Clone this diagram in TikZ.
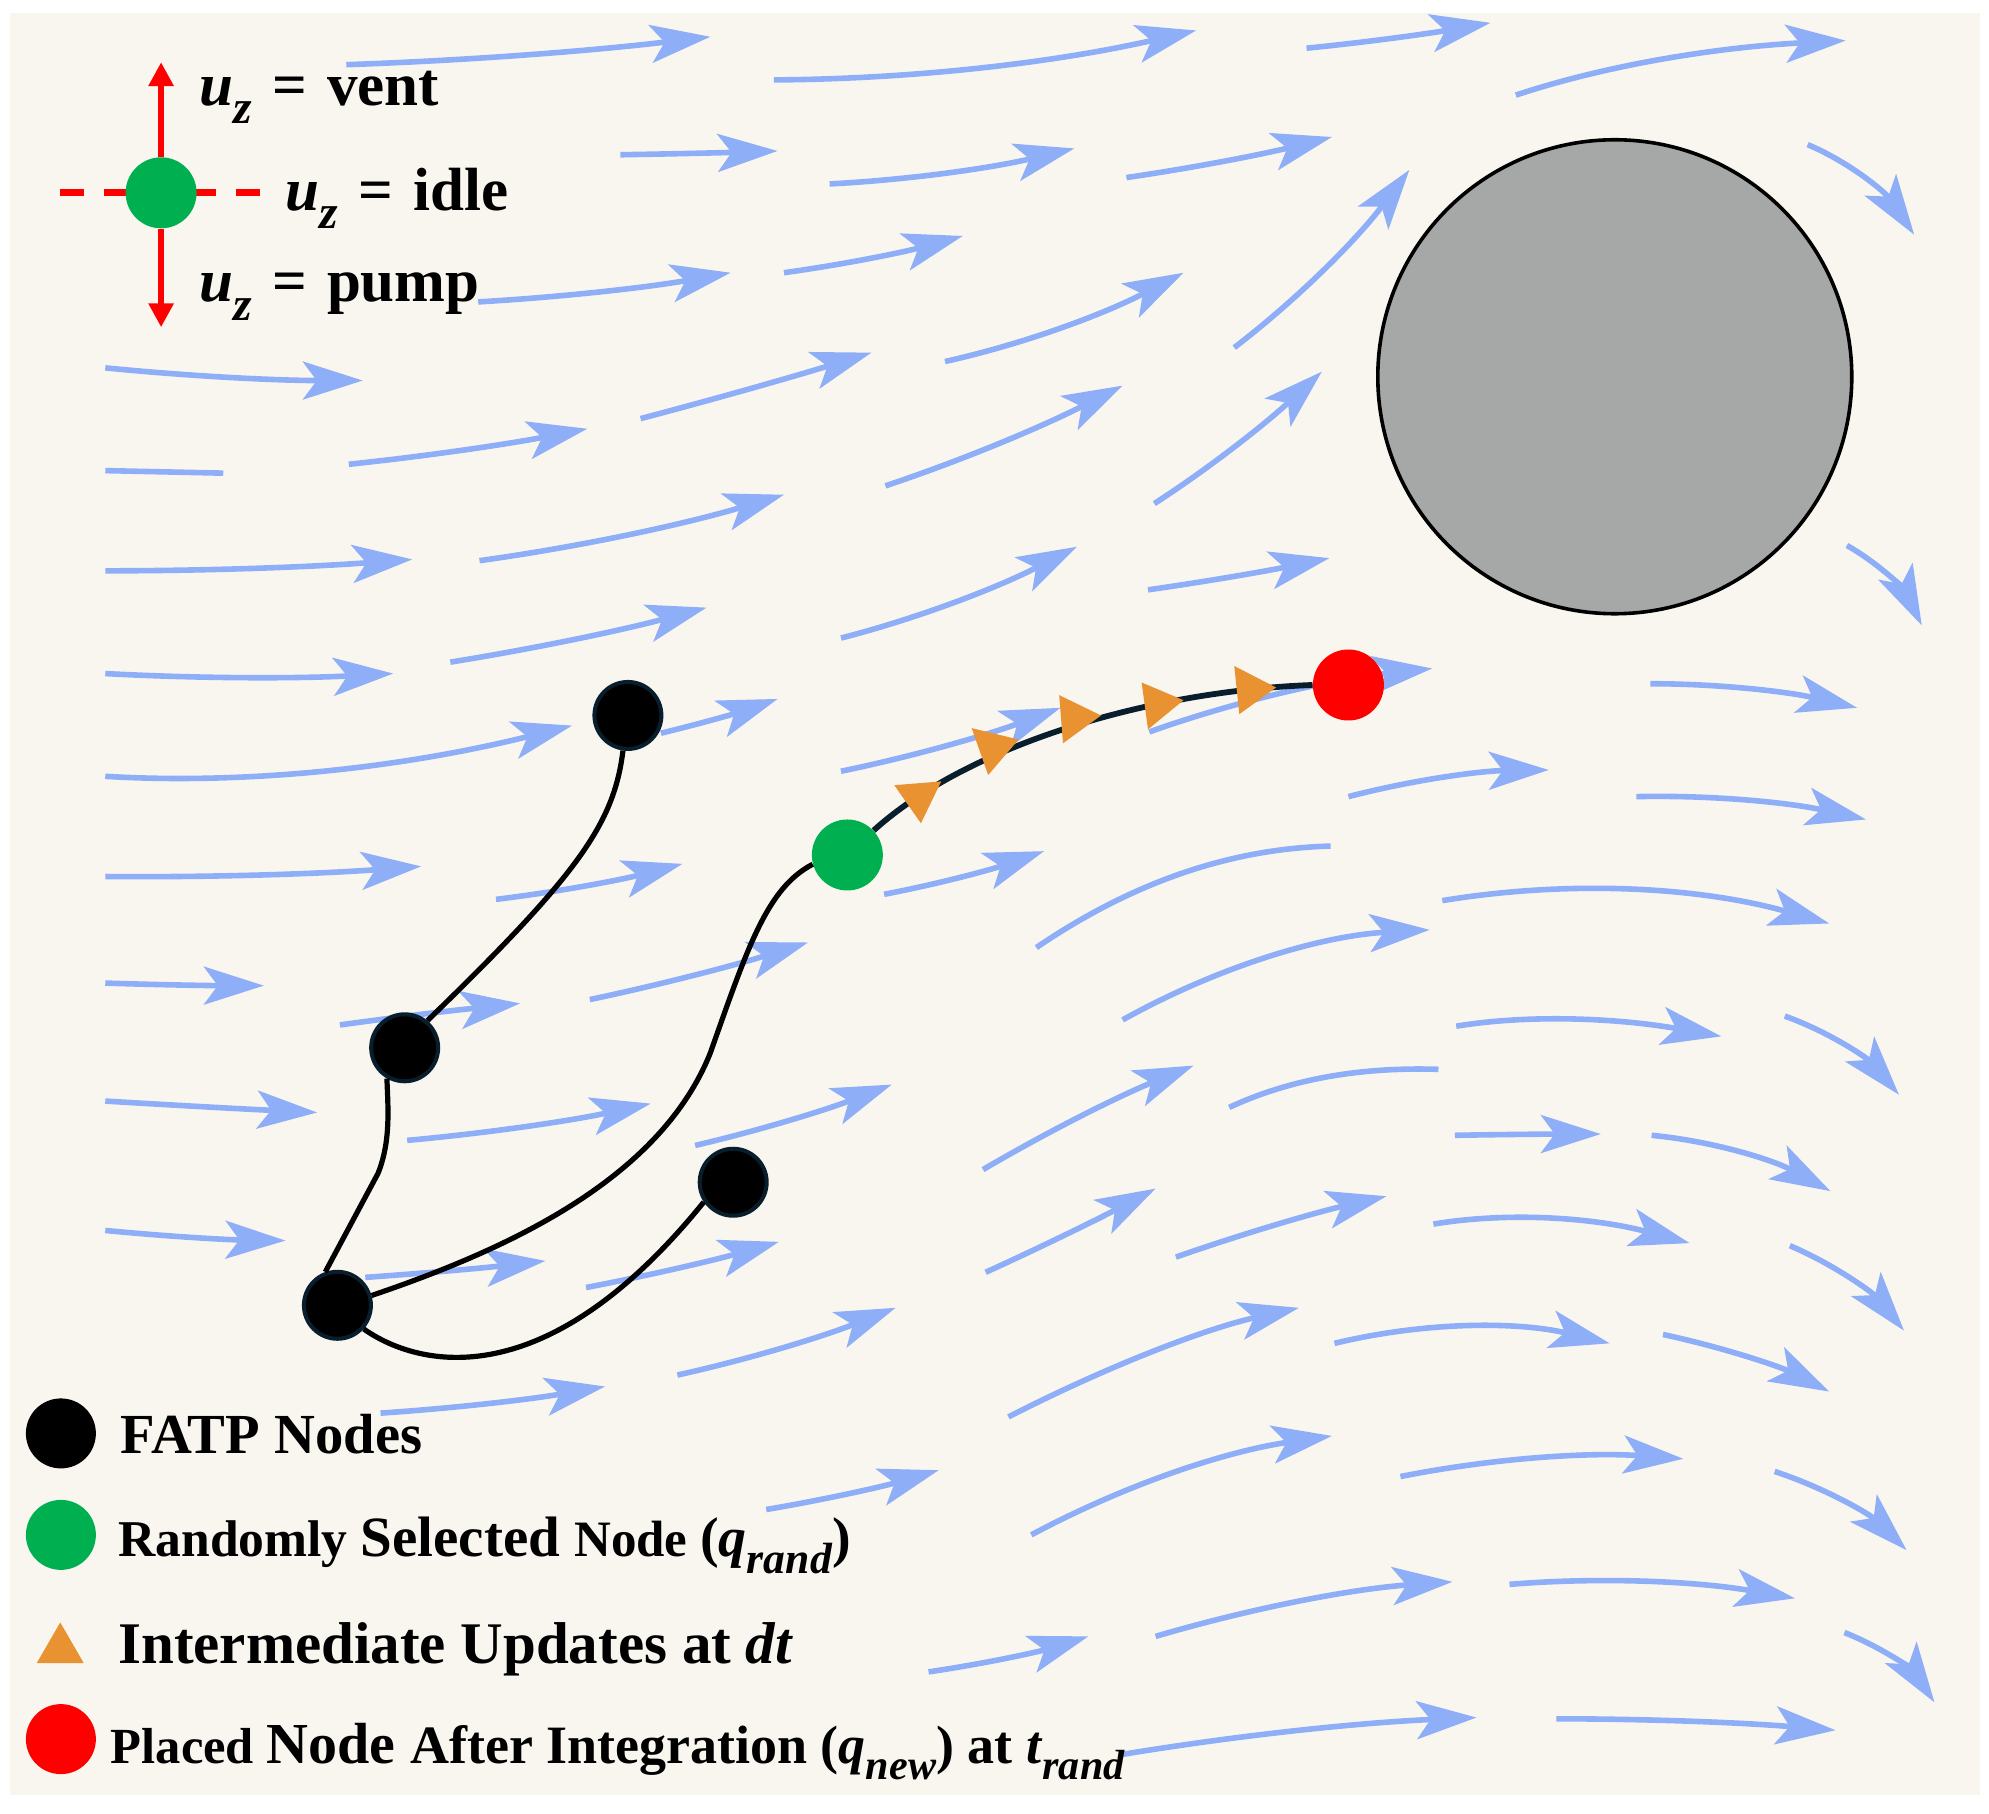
\documentclass[tikz,border=0pt]{standalone}
\usepackage{fontspec}
\usepackage{graphicx}
\setmainfont{Liberation Serif}
\usetikzlibrary{arrows.meta,calc}
\definecolor{bgc}{RGB}{249,246,240}
\definecolor{flow}{RGB}{142,174,248}
\definecolor{obst}{RGB}{166,168,167}
\definecolor{navy}{RGB}{8,30,45}
\definecolor{ngreen}{RGB}{0,176,80}
\definecolor{tri}{RGB}{233,146,50}
\newcommand\lsub[1]{\raisebox{-0.3em}{\scalebox{0.78}{#1}}}
\newcommand\qs[2]{\textit{#1}\lsub{\textit{#2}}}
\newcommand\fa[3]{\draw[flowarrow] (#1) .. controls ($(#1)!0.6667!(#2)$) and ($(#3)!0.6667!(#2)$) .. (#3);}
\newcommand\fl[3]{\draw[flowline] (#1) .. controls ($(#1)!0.6667!(#2)$) and ($(#3)!0.6667!(#2)$) .. (#3);}
\begin{document}
\begin{tikzpicture}[x=0.6343pt,y=-0.6343pt,
  flowline/.style={draw=flow,line width=2.8pt},
  flowarrow/.style={flowline,-{Stealth[length=30pt,width=19pt,inset=7pt]}},
  edge/.style={draw=black,line width=2.6pt},
  fatp/.style={circle,fill=black,draw=navy,line width=2pt,minimum size=33.5pt,inner sep=0pt},
  gnode/.style={circle,fill=ngreen,minimum size=35.5pt,inner sep=0pt},
  rnode/.style={circle,fill=red,minimum size=35.5pt,inner sep=0pt},
  lbl/.style={anchor=base west,inner sep=0pt},
  redarrow/.style={draw=red,line width=3pt,-{Triangle[length=12pt,width=12pt]}},
  reddash/.style={draw=red,line width=3.5pt,dash pattern=on 12pt off 10pt}]
\useasboundingbox (0,0) rectangle (1568,1430);
\fill[white] (0,0) rectangle (1568,1430);
\fill[bgc] (8,10) rectangle (1561,1415);
% flow field
\fa{273,51}{416,46}{560,29}
\fa{610,63}{776,62}{943,24}
\fa{1030,38}{1100,31}{1175,18}
\fa{1195,75}{1300,40}{1455,32}
\fa{489,122}{551,121}{613,119}
\fa{654,145}{750,140}{847,117}
\fa{888,140}{970,128}{1050,108}
\fa{1425,114}{1475,135}{1509,185}
\fa{377,238}{480,232}{576,215}
\fa{618,215}{690,205}{759,186}
\fa{745,285}{839,264}{933,215}
\fa{973,274}{1050,215}{1111,134}
\fa{83,290}{184,300}{286,300}
\fa{505,330}{596,306}{687,278}
\fa{698,383}{791,352}{885,304}
\fa{910,397}{975,355}{1042,293}
\fa{275,366}{370,356}{463,338}
\fl{83,371}{130,372}{176,373}
\fa{378,442}{500,425}{618,390}
\fa{83,450}{205,450}{325,441}
\fa{663,503}{756,479}{849,431}
\fa{905,465}{975,455}{1048,440}
\fa{1456,430}{1495,452}{1515,493}
\fa{355,522}{460,505}{557,479}
\fa{83,531}{197,537}{310,531}
\fa{906,577}{1010,540}{1129,527}
\fa{1301,539}{1383,539}{1464,558}
\fa{83,612}{250,622}{451,572}
\fa{521,578}{567,567}{613,551}
\fa{663,608}{750,590}{836,558}
\fa{1063,628}{1140,608}{1221,607}
\fa{1290,628}{1380,626}{1471,646}
\fa{83,691}{210,692}{332,683}
\fa{391,709}{465,700}{538,681}
\fa{697,705}{760,693}{823,671}
\fl{817,747}{930,670}{1049,667}
\fa{1137,710}{1289,685}{1442,728}
\fa{83,775}{145,777}{208,777}
\fa{268,808}{340,798}{410,791}
\fa{465,788}{550,770}{637,743}
\fa{885,804}{1000,740}{1127,733}
\fa{1148,809}{1232,795}{1357,817}
\fa{1407,801}{1460,820}{1497,863}
\fa{83,868}{165,873}{250,877}
\fa{321,899}{420,890}{513,870}
\fa{548,903}{625,885}{703,855}
\fa{775,922}{855,875}{941,840}
\fl{969,873}{1040,840}{1134,843}
\fa{1147,895}{1205,894}{1262,894}
\fa{1302,895}{1375,902}{1443,939}
\fa{83,970}{155,977}{225,978}
\fa{288,1007}{360,1002}{430,994}
\fa{462,1015}{540,1000}{614,979}
\fa{534,1084}{620,1065}{706,1031}
\fa{777,1003}{845,972}{911,937}
\fa{927,991}{1010,962}{1093,943}
\fa{1130,965}{1220,950}{1332,980}
\fa{1411,982}{1465,1005}{1501,1049}
\fa{300,1114}{390,1108}{477,1093}
\fa{795,1117}{916,1055}{1024,1031}
\fa{1052,1059}{1160,1033}{1269,1059}
\fa{1311,1052}{1385,1068}{1442,1097}
\fa{604,1190}{675,1178}{740,1159}
\fa{813,1210}{925,1150}{1050,1132}
\fa{1104,1164}{1215,1142}{1327,1150}
\fa{1399,1160}{1460,1180}{1503,1222}
\fa{732,1318}{800,1308}{858,1290}
\fa{911,1290}{1030,1255}{1145,1247}
\fa{1190,1249}{1300,1240}{1415,1260}
\fa{1454,1287}{1500,1305}{1525,1342}
\fa{885,1383}{1025,1360}{1164,1354}
\fa{1227,1355}{1337,1355}{1447,1364}
% obstacle
\node[circle,fill=obst,draw=black,line width=1.8pt,minimum size=237pt,inner sep=0pt] (obs) at (1273,297) {};
% graph nodes
\node[fatp] (A) at (495,564) {};
\node[fatp] (B) at (319,826) {};
\node[fatp] (C) at (578,932) {};
\node[fatp] (D) at (266,1029) {};
\node[gnode] (G) at (668,674) {};
\node[rnode] (R) at (1063,540) {};
% edges
\draw[edge] (A.262) .. controls (484,650) and (455,690) .. (B.50);
\draw[edge] (B.240) .. controls (306,875) and (308,900) .. (298,925) -- (D.110);
\draw[edge] (D.16) .. controls (400,985) and (520,930) .. (560,830) .. controls (590,745) and (605,700) .. (G.195);
\draw[edge] (D.318) .. controls (330,1078) and (430,1102) .. (C.214);
\draw[draw=navy,line width=2.9pt] (G.43) .. controls (760,590) and (900,545) .. (R.180);
% intermediate updates
\fill[tri] (705,619) -- (742,616) -- (726,649) -- cycle;
\fill[tri] (766,574) -- (803,583) -- (779,611) -- cycle;
\fill[tri] (835,548) -- (868,564) -- (838,586) -- cycle;
\fill[tri] (900,538) -- (933,552) -- (905,575) -- cycle;
\fill[tri] (973,525) -- (1006,542) -- (977,563) -- cycle;
% control legend
\coordinate (dl) at (47,152);
\coordinate (dr) at (205,152);
\draw[reddash] (dl) -- (dr);
\node[gnode] (icon) at (127,152) {};
\coordinate (vtip) at (127,49);
\coordinate (ptip) at (127,258);
\draw[redarrow] (icon) -- (vtip);
\draw[redarrow] (icon) -- (ptip);
\node[lbl,font=\fontsize{30.5}{34}\selectfont\bfseries] (lvent) at (157,83) {\qs{u}{z}\hspace{0.33em}=\hspace{0.33em}vent};
\node[lbl,font=\fontsize{30.5}{34}\selectfont\bfseries] (lidle) at (225,166) {\qs{u}{z}\hspace{0.33em}=\hspace{0.33em}idle};
\node[lbl,font=\fontsize{30.5}{34}\selectfont\bfseries] (lpump) at (157,238) {\qs{u}{z}\hspace{0.33em}=\hspace{0.33em}pump};
% bottom legend
\node[circle,fill=black,minimum size=35pt,inner sep=0pt] (kblack) at (48,1130) {};
\node[circle,fill=ngreen,minimum size=35pt,inner sep=0pt] (kgreen) at (48,1210) {};
\fill[tri] (29,1311) -- (66,1311) -- (47.5,1279) -- cycle;
\node[circle,fill=red,minimum size=35pt,inner sep=0pt] (kred) at (48,1371) {};
\node[lbl,font=\fontsize{28.3}{32}\selectfont\bfseries] (tfatp) at (95,1145.5) {FATP Nodes};
\node[lbl,font=\bfseries] (trand) at (93,1227) {{\fontsize{25.8}{30}\selectfont Randomly }{\fontsize{28.5}{30}\selectfont Selected }{\fontsize{25.5}{30}\selectfont Node }{\fontsize{28}{30}\selectfont (\qs{q}{rand})}};
\node[lbl,font=\fontsize{29.5}{32}\selectfont\bfseries] (tint) at (93,1311) {Intermediate Updates at \textit{dt}};
\node[lbl,font=\bfseries] (tplace) at (87,1390) {{\fontsize{25.3}{30}\selectfont Placed }{\fontsize{29}{30}\selectfont Node }{\fontsize{27}{30}\selectfont After Integration (\qs{q}{new}) at \qs{t}{rand}}};
\end{tikzpicture}
\end{document}
